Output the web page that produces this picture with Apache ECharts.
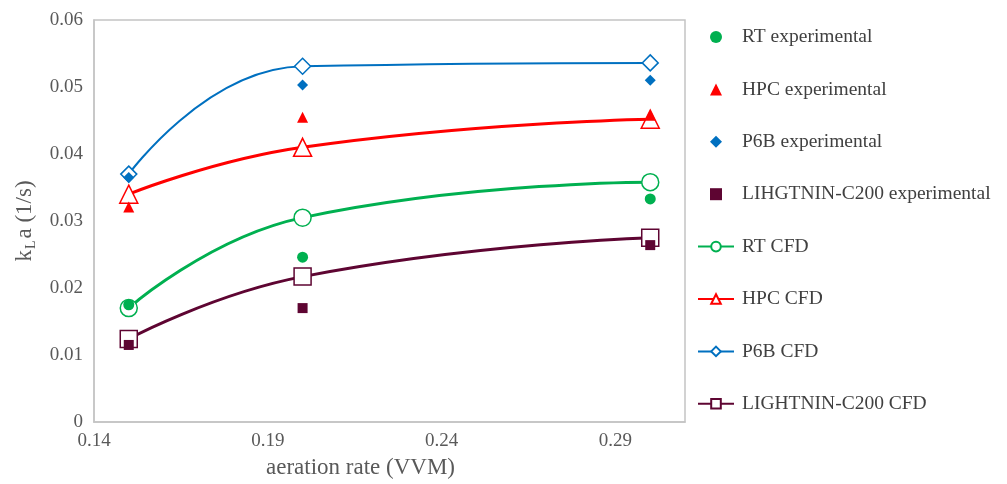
<!DOCTYPE html>
<html>
<head>
<meta charset="utf-8">
<script src="https://cdn.jsdelivr.net/npm/echarts@6/dist/echarts.min.js"></script>
<style>
  html, body { margin: 0; padding: 0; background: #fff; }
  #chart { width: 1007px; height: 484px; }
</style>
</head>
<body>
<div id="chart"></div>
<script>
/* aeration rate (VVM) at which each run was measured / simulated */
const aeration = [0.15, 0.2, 0.3];

/* kLa (1/s), experimental points */
const rtExp = [0.0175, 0.0246, 0.0333];
const hpcExp = [0.0321, 0.0455, 0.0458];
const p6bExp = [0.0365, 0.0503, 0.0510];
const lightninExp = [0.0115, 0.0170, 0.0264];

/* kLa (1/s), CFD predictions */
const rtCfd = [0.0170, 0.0305, 0.0358];
const hpcCfd = [0.0340, 0.0410, 0.0452];
const p6bCfd = [0.0370, 0.0531, 0.0536];
const lightninCfd = [0.0124, 0.0217, 0.0275];

const FONT = "'Liberation Serif', 'Times New Roman', serif";
const GREEN = "#00b050";
const RED = "#ff0000";
const BLUE = "#0070c0";
const MAROON = "#5e0532";

/* legend icons as paths so they keep a square aspect in the 36px slot */
const ICON_TRIANGLE = "path://M5,0L10,10L0,10Z";
const ICON_DIAMOND = "path://M5,0L10,5L5,10L0,5Z";
const ICON_SQUARE = "path://M0,0L10,0L10,10L0,10Z";

function pairs(ys) {
  return aeration.map(function (x, i) { return [x, ys[i]]; });
}

function cfd(name, ys, color, symbol, size, width) {
  return {
    name: name,
    type: "line",
    smooth: 0.5,
    data: pairs(ys),
    symbol: symbol,
    symbolSize: size,
    z: 2,
    lineStyle: { color: color, width: width },
    itemStyle: { color: "#fff", borderColor: color, borderWidth: 1.5 },
    emphasis: { disabled: true },
  };
}

function exp(name, ys, color, symbol, size) {
  return {
    name: name,
    type: "scatter",
    data: pairs(ys),
    symbol: symbol,
    symbolSize: size,
    z: 5,
    itemStyle: { color: color, opacity: 1 },
    emphasis: { disabled: true },
  };
}

const chart = echarts.init(document.getElementById("chart"), null, { renderer: "canvas" });

chart.setOption({
  animation: false,
  backgroundColor: "#fff",
  grid: {
    left: 94, right: 322, top: 20, bottom: 62,
    show: true, borderColor: "#c4c4c4", borderWidth: 1.5,
  },
  legend: {
    orient: "vertical",
    left: 697, top: 27, padding: 0,
    itemWidth: 36, itemHeight: 12, itemGap: 32.4,
    data: [
      { name: "RT experimental", icon: "circle" },
      { name: "HPC experimental", icon: ICON_TRIANGLE },
      { name: "P6B experimental", icon: ICON_DIAMOND },
      { name: "LIHGTNIN-C200 experimental", icon: ICON_SQUARE },
      "RT CFD", "HPC CFD", "P6B CFD", "LIGHTNIN-C200 CFD",
    ],
    textStyle: {
      fontFamily: FONT, fontSize: 19.5, lineHeight: 20,
      color: "#404040", padding: [0, 0, 0, 3],
    },
  },
  xAxis: {
    type: "value",
    min: 0.14, max: 0.31, interval: 0.05,
    name: "aeration rate (VVM)",
    nameLocation: "middle",
    nameGap: 34,
    nameTextStyle: { fontFamily: FONT, fontSize: 23, color: "#595959", padding: [0, 58, 0, 0] },
    axisLine: { show: true, lineStyle: { color: "#c4c4c4", width: 1.5 } },
    axisTick: { show: false },
    splitLine: { show: false },
    axisLabel: {
      fontFamily: FONT, fontSize: 19, color: "#595959", margin: 10,
      showMaxLabel: false,
      formatter: function (v) { return v.toFixed(2); },
    },
  },
  yAxis: {
    type: "value",
    min: 0, max: 0.06, interval: 0.01,
    name: "{a|k}{sub|L}{a|a (1/s)}",
    nameLocation: "middle",
    nameGap: 56,
    nameTextStyle: {
      color: "#595959",
      rich: {
        a: { fontFamily: FONT, fontSize: 23, lineHeight: 26, color: "#595959" },
        sub: { fontFamily: FONT, fontSize: 14, lineHeight: 14, verticalAlign: "bottom", color: "#595959", padding: [0, 2, 0, 1] },
      },
    },
    axisLine: { show: true, lineStyle: { color: "#c4c4c4", width: 1.5 } },
    axisTick: { show: false },
    splitLine: { show: false },
    axisLabel: {
      fontFamily: FONT, fontSize: 19, color: "#595959", margin: 11,
      formatter: function (v) { return v === 0 ? "0" : v.toFixed(2); },
    },
  },
  series: [
    cfd("RT CFD", rtCfd, GREEN, "circle", 17, 3),
    cfd("HPC CFD", hpcCfd, RED, "triangle", 18, 3),
    cfd("P6B CFD", p6bCfd, BLUE, "diamond", 16, 2),
    cfd("LIGHTNIN-C200 CFD", lightninCfd, MAROON, "rect", 17, 3),
    exp("RT experimental", rtExp, GREEN, "circle", 11),
    exp("HPC experimental", hpcExp, RED, "triangle", 11),
    exp("P6B experimental", p6bExp, BLUE, "diamond", 11),
    exp("LIHGTNIN-C200 experimental", lightninExp, MAROON, "rect", 10),
  ],
});
</script>
</body>
</html>
